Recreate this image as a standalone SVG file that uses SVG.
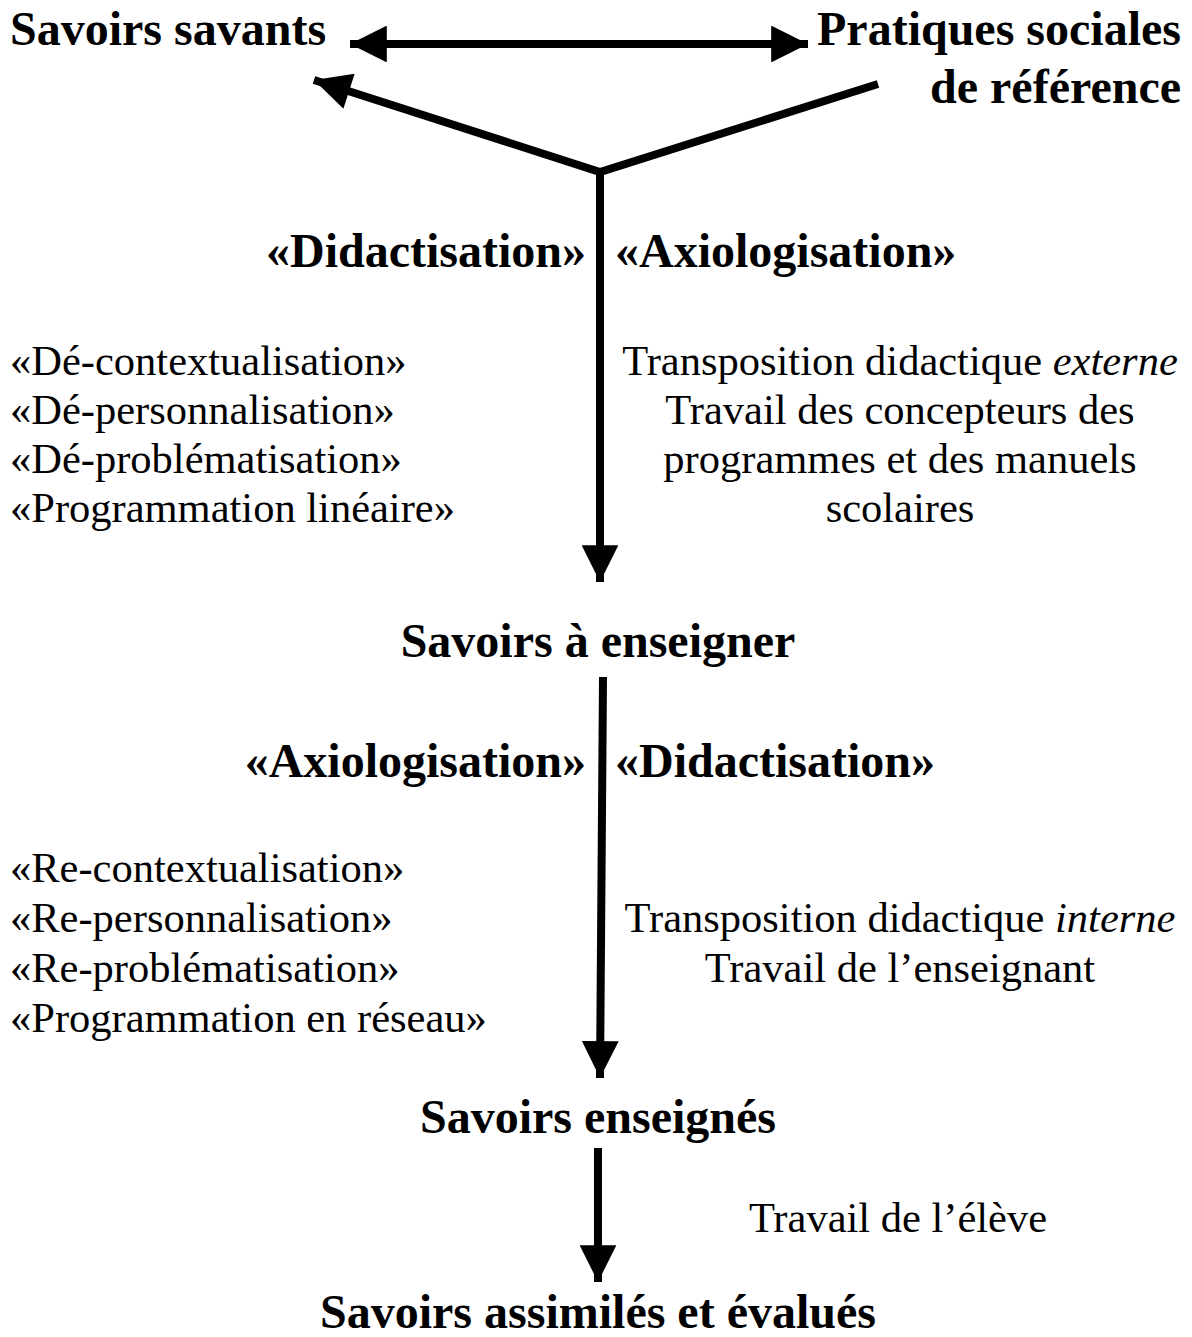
<svg xmlns="http://www.w3.org/2000/svg" width="1192" height="1337" viewBox="0 0 1192 1337">
<style>
text{font-family:"Liberation Serif","Times New Roman",serif;fill:#000}
.h{font-weight:bold;font-size:48px}
.t{font-size:42.5px}
.c{text-anchor:middle}
.e{text-anchor:end}
.ln{stroke:#000;stroke-width:8;fill:none}
</style>
<defs>
<marker id="ah" viewBox="0 0 10 10" refX="10" refY="5" markerWidth="5" markerHeight="4.6" markerUnits="strokeWidth" orient="auto-start-reverse">
<path d="M0,0 L10,5 L0,10 z" fill="#000"/>
</marker>
</defs>
<rect width="1192" height="1337" fill="#fff"/>
<g id="connectors">
<line class="ln" x1="350" y1="44" x2="808" y2="44" marker-start="url(#ah)" marker-end="url(#ah)"/>
<polyline class="ln" points="878,84 600,172 314,80" marker-end="url(#ah)"/>
<line class="ln" x1="600" y1="172" x2="600" y2="582" marker-end="url(#ah)"/>
<line class="ln" x1="603" y1="677" x2="600" y2="1078" marker-end="url(#ah)"/>
<line class="ln" x1="598" y1="1148" x2="598" y2="1282" marker-end="url(#ah)"/>
</g>
<g id="n-savants"><text class="h" x="10" y="45">Savoirs savants</text></g>
<g id="n-pratiques"><text class="h e" x="1181" y="45">Pratiques sociales</text><text class="h e" x="1181" y="103">de référence</text></g>
<g id="l-top"><text class="h e" x="586" y="267">«Didactisation»</text><text class="h" x="615" y="267">«Axiologisation»</text></g>
<g id="l-de">
<text class="t" x="10" y="375">«Dé-contextualisation»</text>
<text class="t" x="10" y="424">«Dé-personnalisation»</text>
<text class="t" x="10" y="473">«Dé-problématisation»</text>
<text class="t" x="10" y="522">«Programmation linéaire»</text>
</g>
<g id="l-externe">
<text class="t c" x="900" y="375">Transposition didactique <tspan font-style="italic">externe</tspan></text>
<text class="t c" x="900" y="424">Travail des concepteurs des</text>
<text class="t c" x="900" y="473">programmes et des manuels</text>
<text class="t c" x="900" y="522">scolaires</text>
</g>
<g id="n-aenseigner"><text class="h c" x="598" y="657">Savoirs à enseigner</text></g>
<g id="l-mid"><text class="h e" x="586" y="777">«Axiologisation»</text><text class="h" x="615" y="777">«Didactisation»</text></g>
<g id="l-re">
<text class="t" x="10" y="882">«Re-contextualisation»</text>
<text class="t" x="10" y="932">«Re-personnalisation»</text>
<text class="t" x="10" y="982">«Re-problématisation»</text>
<text class="t" x="10" y="1032">«Programmation en réseau»</text>
</g>
<g id="l-interne">
<text class="t c" x="900" y="932">Transposition didactique <tspan font-style="italic">interne</tspan></text>
<text class="t c" x="900" y="982">Travail de l’enseignant</text>
</g>
<g id="n-enseignes"><text class="h c" x="598" y="1133">Savoirs enseignés</text></g>
<g id="l-eleve"><text class="t c" x="898" y="1232">Travail de l’élève</text></g>
<g id="n-assimiles"><text class="h c" x="598" y="1328">Savoirs assimilés et évalués</text></g>
</svg>
